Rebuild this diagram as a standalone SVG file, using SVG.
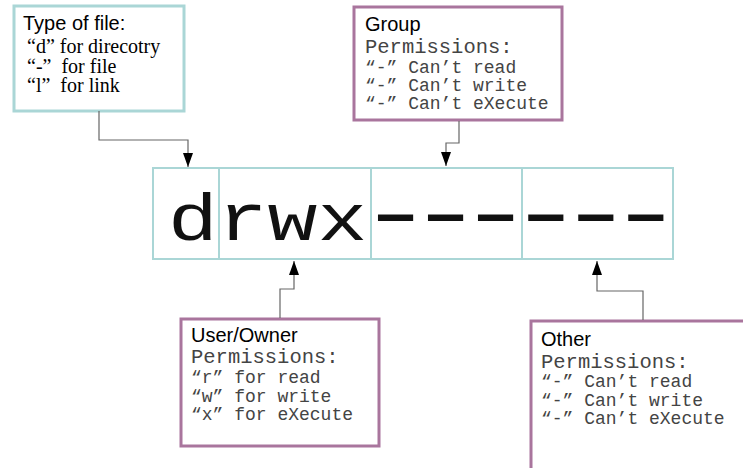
<svg xmlns="http://www.w3.org/2000/svg" width="743" height="468" viewBox="0 0 743 468">
  <defs>
    <marker id="arrow" viewBox="0 0 14 10" refX="14" refY="5" markerWidth="14" markerHeight="10" markerUnits="userSpaceOnUse" orient="auto">
      <path d="M0,0 L14,5 L0,10 Z" fill="#000"/>
    </marker>
    <style>
      .tealbox { fill: #fff; stroke: #aad6d6; stroke-width: 3; }
      .plumbox { fill: #fff; stroke: #a9759d; stroke-width: 3; }
      .cell { fill: none; stroke: #aad6d6; stroke-width: 2; }
      .head { font-family: "Liberation Sans", Arial, sans-serif; font-size: 20px; fill: #000; }
      .serif { font-family: "Liberation Serif", "Times New Roman", serif; font-size: 20px; fill: #000; white-space: pre; }
      .perm { font-family: "Liberation Mono", "Courier New", monospace; font-size: 20.5px; fill: #444; }
      .mono { font-family: "Liberation Mono", "Courier New", monospace; font-size: 18px; fill: #444; white-space: pre; }
      .big { font-family: "Liberation Mono", "Courier New", monospace; font-size: 83px; fill: #111; }
      .wire { fill: none; stroke: #666; stroke-width: 1.2; }
    </style>
  </defs>
  <rect width="743" height="468" fill="#fff"/>

  <!-- permission string cells -->
  <g id="mode-string">
    <rect class="cell" x="153" y="168" width="520" height="91"/>
    <line class="cell" x1="219" y1="168" x2="219" y2="259"/>
    <line class="cell" x1="371" y1="168" x2="371" y2="259"/>
    <line class="cell" x1="522" y1="168" x2="522" y2="259"/>
    <!-- type + owner letters, slightly squat like a typewriter face -->
    <text class="big" x="168" y="240" transform="translate(0,240) scale(1,0.8) translate(0,-240)">drwx</text>
    <!-- group + other dashes, widened; pitch kept at 50px -->
    <text class="big" x="230.3" y="240" letter-spacing="-17.5" transform="scale(1.55,1)">------</text>
  </g>

  <!-- file type legend -->
  <g id="type-of-file">
    <rect class="tealbox" x="14" y="6" width="170" height="105"/>
    <text class="head" x="23" y="30">Type of file:</text>
    <text class="serif" x="27" y="53">“d” for direcotry</text>
    <text class="serif" x="27" y="73">“-”  for file</text>
    <text class="serif" x="27" y="92">“l”  for link</text>
  </g>

  <!-- group permissions -->
  <g id="group">
    <rect class="plumbox" x="354" y="7" width="208" height="113"/>
    <text class="head" x="365" y="31">Group</text>
    <text class="perm" x="365" y="53">Permissions:</text>
    <text class="mono" x="365" y="73">“-” Can’t read</text>
    <text class="mono" x="365" y="91">“-” Can’t write</text>
    <text class="mono" x="365" y="109">“-” Can’t eXecute</text>
  </g>

  <!-- owner permissions -->
  <g id="user-owner">
    <rect class="plumbox" x="181" y="319" width="198" height="127"/>
    <text class="head" x="191" y="342">User/Owner</text>
    <text class="perm" x="191" y="363">Permissions:</text>
    <text class="mono" x="191" y="383">“r” for read</text>
    <text class="mono" x="191" y="402">“w” for write</text>
    <text class="mono" x="191" y="420">“x” for eXecute</text>
  </g>

  <!-- other permissions -->
  <g id="other">
    <rect class="plumbox" x="531" y="321" width="230" height="160"/>
    <text class="head" x="541" y="346">Other</text>
    <text class="perm" x="541" y="368">Permissions:</text>
    <text class="mono" x="541" y="387">“-” Can’t read</text>
    <text class="mono" x="541" y="406">“-” Can’t write</text>
    <text class="mono" x="541" y="424">“-” Can’t eXecute</text>
  </g>

  <!-- connectors -->
  <g id="connectors">
    <path class="wire" d="M99,111 V140 H188 V167" marker-end="url(#arrow)"/>
    <path class="wire" d="M459,121 V143 H446 V166" marker-end="url(#arrow)"/>
    <path class="wire" d="M280,318 V289 H294 V261" marker-end="url(#arrow)"/>
    <path class="wire" d="M643,320 V291 H597 V261" marker-end="url(#arrow)"/>
  </g>
</svg>
